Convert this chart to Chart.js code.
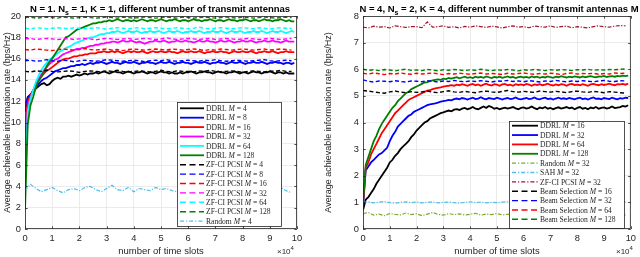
<!DOCTYPE html>
<html><head><meta charset="utf-8">
<script src="https://cdn.jsdelivr.net/npm/chart.js@4/dist/chart.umd.min.js"></script>
<style>
html,body{margin:0;padding:0;background:#fff;overflow:hidden}
#wrap{position:relative;width:640px;height:257px}
canvas{position:absolute;top:0}
</style></head><body>
<div id="wrap">
<canvas id="c1" width="320" height="257" style="left:0;width:320px;height:257px"></canvas>
<canvas id="c2" width="320" height="257" style="left:320px;width:320px;height:257px"></canvas>
</div>
<script>
// ---------- shared x values (time slots) ----------
const timeSlots = [0,1000,2000,3000,4000,5000,6000,7000,8000,9000,10000,11000,12000,13000,14000,15000,16000,17000,18000,19000,
20000,21000,22000,23000,24000,25000,26000,27000,28000,29000,30000,31000,32000,33000,34000,35000,36000,37000,38000,39000,
40000,41000,42000,43000,44000,45000,46000,47000,48000,49000,50000,51000,52000,53000,54000,55000,56000,57000,58000,59000,
60000,61000,62000,63000,64000,65000,66000,67000,68000,69000,70000,71000,72000,73000,74000,75000,76000,77000,78000,79000,
80000,81000,82000,83000,84000,85000,86000,87000,88000,89000,90000,91000,92000,93000,94000,95000,96000,97000,98000,99000];
const timeSlotsCoarse = [0,2000,4000,6000,8000,10000,12000,14000,16000,18000,20000,22000,24000,26000,28000,30000,32000,34000,36000,38000,
40000,42000,44000,46000,48000,50000,52000,54000,56000,58000,60000,62000,64000,66000,68000,70000,72000,74000,76000,78000,
80000,82000,84000,86000,88000,90000,92000,94000,96000,98000];
const xTickLabels = ['0','1','2','3','4','5','6','7','8','9','10'];
const leftYTicks = [0,2,4,6,8,10,12,14,16,18,20];
const rightYTicks = [0,1,2,3,4,5,6,7,8];

// ---------- LEFT: N=1, Ns=1, K=1 ----------
const antennasLeft = ['4','8','16','32','64','128'];
const ddrlL4 = [11.0,12.4,12.6,12.9,13.2,13.4,13.6,13.7,13.5,13.6,13.9,14.1,14.2,14.1,14.3,14.3,14.4,14.3,14.4,14.5,
14.4,14.5,14.6,14.5,14.6,14.6,14.7,14.6,14.7,14.8,14.7,14.6,14.7,14.8,14.7,14.7,14.6,14.7,14.8,14.7,
14.6,14.7,14.7,14.8,14.7,14.6,14.7,14.7,14.6,14.7,14.8,14.7,14.7,14.6,14.7,14.6,14.6,14.7,14.6,14.7,
14.7,14.8,14.7,14.6,14.7,14.7,14.8,14.7,14.7,14.6,14.7,14.8,14.7,14.7,14.6,14.7,14.7,14.8,14.7,14.6,
14.7,14.7,14.6,14.7,14.8,14.7,14.7,14.6,14.7,14.7,14.8,14.7,14.6,14.7,14.7,14.6,14.7,14.6,14.6,14.6];
const ddrlL8 = [11.4,12.3,12.6,13.0,13.3,13.6,13.9,14.1,14.2,14.4,14.6,14.8,14.9,15.0,15.1,15.1,15.2,15.3,15.3,15.4,
15.4,15.5,15.4,15.5,15.6,15.5,15.6,15.6,15.7,15.6,15.5,15.6,15.7,15.6,15.6,15.5,15.6,15.7,15.6,15.6,
15.7,15.6,15.5,15.6,15.6,15.7,15.6,15.6,15.5,15.6,15.7,15.6,15.6,15.7,15.6,15.5,15.6,15.6,15.7,15.6,
15.6,15.5,15.6,15.7,15.6,15.6,15.7,15.6,15.5,15.6,15.6,15.7,15.6,15.6,15.5,15.6,15.7,15.6,15.6,15.7,
15.6,15.5,15.6,15.6,15.7,15.6,15.6,15.7,15.6,15.5,15.6,15.6,15.7,15.6,15.6,15.5,15.6,15.6,15.5,15.6];
const ddrlL16 = [9.0,12.0,12.5,13.0,13.5,14.0,14.3,14.6,14.9,15.0,15.2,15.4,15.6,15.8,15.9,16.0,16.0,16.1,16.2,16.2,
16.3,16.3,16.4,16.4,16.5,16.5,16.5,16.6,16.6,16.7,16.6,16.6,16.7,16.6,16.7,16.6,16.5,16.6,16.7,16.6,
16.7,16.6,16.6,16.7,16.6,16.5,16.6,16.7,16.6,16.6,16.7,16.6,16.6,16.7,16.6,16.6,16.5,16.6,16.7,16.6,
16.6,16.7,16.6,16.6,16.7,16.6,16.5,16.6,16.6,16.7,16.6,16.6,16.7,16.6,16.6,16.5,16.6,16.7,16.6,16.6,
16.7,16.6,16.6,16.7,16.6,16.5,16.6,16.6,16.7,16.6,16.6,16.7,16.6,16.5,16.6,16.6,16.7,16.6,16.6,16.6];
const ddrlL32 = [6.5,11.5,12.3,13.0,13.6,14.1,14.5,14.9,15.2,15.5,15.7,15.9,16.0,16.2,16.4,16.5,16.6,16.7,16.8,16.9,
16.9,17.0,17.0,17.1,17.2,17.2,17.3,17.3,17.4,17.4,17.5,17.5,17.6,17.6,17.5,17.6,17.7,17.6,17.6,17.7,
17.6,17.5,17.6,17.5,17.4,17.5,17.6,17.6,17.7,17.6,17.6,17.7,17.6,17.5,17.6,17.6,17.7,17.6,17.6,17.7,
17.6,17.6,17.5,17.6,17.7,17.6,17.6,17.7,17.6,17.6,17.5,17.6,17.7,17.6,17.6,17.7,17.6,17.5,17.6,17.6,
17.7,17.6,17.6,17.7,17.6,17.5,17.6,17.6,17.7,17.6,17.6,17.7,17.6,17.6,17.5,17.6,17.7,17.6,17.6,17.6];
const ddrlL64 = [3.5,11.0,12.2,13.0,13.8,14.4,14.9,15.3,15.6,15.9,16.1,16.3,16.5,16.7,16.8,17.0,17.1,17.2,17.4,17.5,
17.6,17.7,17.8,17.9,18.0,18.0,18.1,18.2,18.3,18.3,18.4,18.4,18.5,18.5,18.6,18.5,18.4,18.5,18.6,18.5,
18.5,18.6,18.5,18.4,18.5,18.5,18.6,18.5,18.5,18.6,18.5,18.4,18.5,18.6,18.5,18.5,18.6,18.5,18.4,18.5,
18.5,18.6,18.5,18.5,18.6,18.5,18.4,18.5,18.5,18.6,18.5,18.5,18.6,18.5,18.4,18.5,18.6,18.5,18.5,18.6,
18.5,18.4,18.5,18.5,18.6,18.5,18.5,18.6,18.5,18.4,18.5,18.6,18.5,18.5,18.6,18.5,18.4,18.5,18.6,18.5];
const ddrlL128 = [1.8,9.8,11.6,12.4,13.3,13.9,14.3,14.8,15.3,15.7,16.0,16.4,16.8,17.2,17.6,18.0,18.1,18.3,18.5,18.7,
18.8,18.9,19.0,19.1,19.2,19.3,19.3,19.4,19.4,19.5,19.5,19.6,19.5,19.6,19.7,19.6,19.5,19.6,19.6,19.5,
19.6,19.5,19.6,19.7,19.6,19.5,19.6,19.6,19.5,19.6,19.7,19.6,19.5,19.6,19.6,19.7,19.6,19.5,19.6,19.6,
19.5,19.6,19.7,19.6,19.6,19.5,19.6,19.6,19.7,19.6,19.5,19.6,19.6,19.5,19.6,19.7,19.6,19.6,19.5,19.6,
19.6,19.7,19.6,19.5,19.6,19.6,19.5,19.6,19.7,19.6,19.6,19.5,19.6,19.6,19.7,19.6,19.5,19.6,19.5,19.5];
const zfL4 = [14.8,14.75,14.85,14.8,14.9,14.8,14.75,14.8,14.85,14.8,14.7,14.8,14.85,14.8,14.75,14.85,14.8,14.9,14.8,14.75,
14.8,14.85,14.8,14.75,14.8,14.9,14.8,14.75,14.85,14.8,14.8,14.75,14.85,14.8,14.9,14.8,14.75,14.8,14.85,14.8,
14.7,14.8,14.85,14.8,14.75,14.85,14.8,14.9,14.8,14.8];
const zfL8 = [15.8,15.85,15.75,15.8,15.9,15.8,15.75,15.85,15.8,15.7,15.8,15.85,15.8,15.75,15.8,15.9,15.85,15.8,15.75,15.8,
15.85,15.8,15.7,15.8,15.85,15.8,15.9,15.8,15.75,15.8,15.85,15.8,15.75,15.85,15.8,15.9,15.8,15.75,15.8,15.85,
15.8,15.75,15.8,15.85,15.9,15.8,15.75,15.8,15.85,15.8];
const zfL16 = [16.85,16.8,16.9,16.85,16.8,16.75,16.85,16.9,16.85,16.8,16.85,16.95,16.85,16.8,16.85,16.9,16.8,16.85,16.75,16.85,
16.9,16.85,16.8,16.85,16.9,16.85,16.8,16.9,16.85,16.8,16.85,16.9,16.85,16.75,16.85,16.8,16.9,16.85,16.8,16.85,
16.9,16.85,16.8,16.85,16.9,16.8,16.85,16.9,16.85,16.8];
const zfL32 = [17.85,17.9,17.8,17.85,17.9,17.85,17.8,17.85,17.9,17.8,17.85,17.9,17.85,17.75,17.85,17.9,17.85,17.8,17.85,17.9,
17.8,17.85,17.9,17.85,17.8,17.85,17.95,17.85,17.8,17.85,17.9,17.85,17.8,17.85,17.9,17.8,17.85,17.9,17.85,17.8,
17.85,17.9,17.85,17.8,17.85,17.9,17.85,17.8,17.85,17.9];
const zfL64 = [18.85,18.8,18.9,18.85,18.8,18.85,18.9,18.85,18.8,18.9,18.85,18.8,18.85,18.9,18.85,18.75,18.85,18.9,18.85,18.8,
18.85,18.9,18.8,18.85,18.9,18.85,18.8,18.85,18.9,18.85,18.8,18.85,18.95,18.85,18.8,18.85,18.9,18.85,18.8,18.85,
18.9,18.85,18.8,18.9,18.85,18.8,18.85,18.9,18.85,18.85];
const zfL128 = [19.85,19.9,19.8,19.85,19.9,19.85,19.8,19.9,19.85,19.8,19.85,19.9,19.85,19.8,19.85,19.9,19.85,19.8,19.9,19.85,
19.8,19.85,19.9,19.85,19.8,19.85,19.9,19.85,19.8,19.9,19.85,19.8,19.85,19.9,19.85,19.8,19.85,19.9,19.85,19.8,
19.9,19.85,19.8,19.85,19.9,19.85,19.8,19.85,19.9,19.85];
const randomL4 = [3.6,4.2,3.8,3.5,3.7,3.9,3.6,3.4,3.7,3.8,3.6,3.9,4.0,3.7,3.5,3.8,4.1,3.7,3.6,3.9,
3.5,3.8,3.7,3.6,3.9,3.7,3.8,3.6,3.5,3.8,3.9,3.7,3.6,3.8,3.7,3.5,3.8,3.9,3.6,3.7,
3.8,3.6,3.9,3.7,3.5,3.8,3.7,3.9,3.6,3.4];

// ---------- RIGHT: N=4, Ns=2, K=4 ----------
const antennasRight = ['16','32','64','128'];
const ddrlR16 = [0.7,1.1,1.2,1.35,1.5,1.7,1.85,2.0,2.15,2.3,2.5,2.6,2.75,2.85,3.0,3.1,3.2,3.3,3.45,3.55,
3.7,3.8,3.9,4.0,4.05,4.15,4.2,4.25,4.3,4.35,4.38,4.42,4.45,4.42,4.48,4.5,4.47,4.52,4.55,4.5,
4.53,4.58,4.52,4.5,4.55,4.6,4.55,4.62,4.58,4.52,4.55,4.5,4.53,4.56,4.52,4.55,4.58,4.53,4.5,4.55,
4.57,4.52,4.55,4.6,4.54,4.5,4.56,4.53,4.58,4.52,4.55,4.5,4.54,4.57,4.52,4.55,4.58,4.53,4.56,4.5,
4.55,4.58,4.52,4.55,4.5,4.56,4.53,4.58,4.52,4.55,4.57,4.52,4.55,4.6,4.54,4.56,4.58,4.62,4.6,4.65];
const ddrlR32 = [0.8,2.2,2.35,2.5,2.6,2.7,2.8,2.85,2.95,3.05,3.3,3.5,3.65,3.85,3.95,4.05,4.15,4.25,4.3,4.4,
4.45,4.5,4.55,4.6,4.65,4.68,4.7,4.72,4.75,4.78,4.8,4.82,4.85,4.83,4.88,4.9,4.87,4.92,4.9,4.86,
4.9,4.93,4.88,4.9,4.95,4.9,4.87,4.92,4.9,4.88,4.93,4.9,4.86,4.9,4.92,4.88,4.9,4.94,4.89,4.87,
4.9,4.92,4.88,4.9,4.94,4.89,4.87,4.91,4.93,4.88,4.9,4.86,4.9,4.93,4.89,4.91,4.88,4.92,4.9,4.87,
4.91,4.93,4.88,4.9,4.86,4.91,4.94,4.89,4.9,4.87,4.92,4.9,4.88,4.93,4.9,4.87,4.91,4.9,4.93,4.92];
const ddrlR64 = [0.9,2.3,2.5,2.8,3.0,3.2,3.4,3.6,3.75,3.9,4.05,4.2,4.35,4.45,4.55,4.65,4.75,4.85,4.9,4.95,
5.0,5.05,5.1,5.15,5.2,5.22,5.25,5.28,5.3,5.32,5.35,5.37,5.38,5.4,5.38,5.42,5.4,5.44,5.41,5.38,
5.42,5.45,5.4,5.43,5.38,5.42,5.46,5.41,5.39,5.44,5.42,5.38,5.43,5.45,5.4,5.42,5.38,5.44,5.41,5.43,
5.4,5.45,5.42,5.38,5.43,5.41,5.44,5.4,5.42,5.46,5.41,5.39,5.43,5.4,5.44,5.42,5.38,5.43,5.45,5.41,
5.42,5.4,5.44,5.41,5.38,5.43,5.45,5.42,5.4,5.44,5.41,5.43,5.46,5.42,5.4,5.44,5.43,5.45,5.42,5.46];
const ddrlR128 = [1.0,2.4,2.7,3.0,3.3,3.5,3.75,3.95,4.1,4.25,4.4,4.55,4.65,4.8,4.9,5.0,5.1,5.15,5.25,5.3,
5.35,5.4,5.45,5.5,5.52,5.55,5.58,5.6,5.62,5.6,5.65,5.63,5.67,5.65,5.68,5.7,5.66,5.69,5.72,5.68,
5.7,5.67,5.72,5.69,5.71,5.68,5.73,5.7,5.67,5.71,5.69,5.72,5.68,5.7,5.73,5.69,5.71,5.67,5.7,5.72,
5.69,5.71,5.68,5.73,5.7,5.72,5.68,5.71,5.69,5.73,5.7,5.68,5.72,5.7,5.74,5.71,5.69,5.72,5.7,5.73,
5.71,5.69,5.73,5.7,5.72,5.74,5.71,5.7,5.73,5.72,5.75,5.71,5.73,5.74,5.72,5.75,5.73,5.76,5.74,5.76];
const randomR32 = [0.58,0.62,0.52,0.56,0.5,0.58,0.55,0.53,0.6,0.54,0.57,0.5,0.56,0.62,0.55,0.52,0.58,0.54,0.57,0.53,
0.55,0.59,0.52,0.56,0.54,0.58,0.53,0.55,0.57,0.52,0.56,0.54,0.58,0.55,0.52,0.57,0.54,0.56,0.53,0.55,
0.58,0.54,0.56,0.52,0.55,0.57,0.53,0.56,0.6,0.52];
const sahR32 = [1.0,1.02,0.98,1.01,1.03,0.99,0.97,1.0,1.02,0.99,1.01,0.98,1.0,1.02,0.98,1.0,1.01,0.99,0.97,1.0,
1.02,0.99,1.01,0.98,1.0,0.99,1.01,1.02,0.98,1.0,0.99,1.01,1.0,0.98,1.02,0.99,1.0,1.01,0.98,1.0,
1.02,0.99,1.0,0.98,1.01,1.0,0.99,1.02,1.0,1.01];
const zfR32 = [7.58,7.55,7.62,7.58,7.6,7.55,7.63,7.6,7.57,7.6,7.6,7.56,7.78,7.58,7.6,7.63,7.57,7.6,7.55,7.61,
7.58,7.63,7.6,7.57,7.62,7.59,7.55,7.6,7.63,7.58,7.6,7.56,7.62,7.6,7.58,7.63,7.57,7.6,7.62,7.56,
7.6,7.58,7.55,7.6,7.63,7.6,7.58,7.62,7.64,7.63];
const beamR16 = [5.2,5.18,5.15,5.12,5.1,5.15,5.18,5.14,5.12,5.16,5.13,5.15,5.18,5.14,5.12,5.16,5.19,5.15,5.13,5.17,
5.14,5.12,5.16,5.18,5.15,5.13,5.17,5.2,5.16,5.14,5.17,5.15,5.13,5.18,5.16,5.14,5.17,5.15,5.12,5.16,
5.18,5.15,5.13,5.17,5.15,5.12,5.16,5.14,5.12,5.1];
const beamR32 = [5.6,5.55,5.52,5.56,5.55,5.53,5.57,5.54,5.52,5.56,5.55,5.53,5.57,5.55,5.52,5.56,5.54,5.58,5.55,5.53,
5.56,5.54,5.57,5.55,5.52,5.56,5.55,5.58,5.54,5.56,5.53,5.57,5.55,5.52,5.56,5.54,5.58,5.55,5.53,5.56,
5.54,5.57,5.55,5.53,5.56,5.58,5.55,5.54,5.57,5.56];
const beamR64 = [5.85,5.82,5.86,5.83,5.8,5.84,5.82,5.86,5.83,5.81,5.85,5.82,5.84,5.86,5.83,5.8,5.84,5.82,5.85,5.83,
5.81,5.84,5.86,5.82,5.84,5.83,5.8,5.85,5.82,5.84,5.86,5.83,5.81,5.84,5.82,5.85,5.83,5.8,5.84,5.86,
5.82,5.84,5.83,5.85,5.81,5.84,5.82,5.86,5.84,5.85];
const beamR128 = [6.0,5.96,5.98,5.95,5.99,5.97,5.94,5.98,6.0,5.96,5.97,5.95,5.99,5.97,5.94,5.98,5.96,5.99,5.97,5.95,
5.98,5.96,6.0,5.97,5.95,5.98,5.96,5.99,5.97,5.94,5.98,5.96,5.99,5.97,5.95,5.98,5.96,5.99,5.97,5.95,
5.98,5.97,6.0,5.96,5.98,5.97,5.99,5.98,6.0,6.01];

// ---------- styling ----------
const C = {black:'#000000', blue:'#0000ff', red:'#ff0000', mag:'#ff00ff', cyan:'#00ffff', green:'#008000',
  lblue:'#4dbeee', ygreen:'#77ac30', dred:'#a2142f'};
const DASH = [4,2.5], DASHDOT = [4,1.5,1.2,1.5];
const LEG_DASH = [6,3.5], LEG_DASHDOT = [4,2,1.2,2];
const AX = '#262626', GRID = '#e6e6e6';
const SANS = '"Liberation Sans", Arial, Helvetica, sans-serif';
const SERIF = '"Liberation Serif", "Times New Roman", serif';

const leftSeries = [
  {name:'DDRL', m:antennasLeft[0], xs:timeSlots, ys:ddrlL4, color:C.black, w:1.8, dash:[]},
  {name:'DDRL', m:antennasLeft[1], xs:timeSlots, ys:ddrlL8, color:C.blue, w:1.8, dash:[]},
  {name:'DDRL', m:antennasLeft[2], xs:timeSlots, ys:ddrlL16, color:C.red, w:1.8, dash:[]},
  {name:'DDRL', m:antennasLeft[3], xs:timeSlots, ys:ddrlL32, color:C.mag, w:1.8, dash:[]},
  {name:'DDRL', m:antennasLeft[4], xs:timeSlots, ys:ddrlL64, color:C.cyan, w:1.8, dash:[]},
  {name:'DDRL', m:antennasLeft[5], xs:timeSlots, ys:ddrlL128, color:C.green, w:1.8, dash:[]},
  {name:'ZF-CI PCSI', m:antennasLeft[0], xs:timeSlotsCoarse, ys:zfL4, color:C.black, w:1.4, dash:DASH},
  {name:'ZF-CI PCSI', m:antennasLeft[1], xs:timeSlotsCoarse, ys:zfL8, color:C.blue, w:1.4, dash:DASH},
  {name:'ZF-CI PCSI', m:antennasLeft[2], xs:timeSlotsCoarse, ys:zfL16, color:C.red, w:1.4, dash:DASH},
  {name:'ZF-CI PCSI', m:antennasLeft[3], xs:timeSlotsCoarse, ys:zfL32, color:C.mag, w:1.4, dash:DASH},
  {name:'ZF-CI PCSI', m:antennasLeft[4], xs:timeSlotsCoarse, ys:zfL64, color:C.cyan, w:1.4, dash:DASH},
  {name:'ZF-CI PCSI', m:antennasLeft[5], xs:timeSlotsCoarse, ys:zfL128, color:C.green, w:1.4, dash:DASH},
  {name:'Random', m:antennasLeft[0], xs:timeSlotsCoarse, ys:randomL4, color:C.lblue, w:1.2, dash:DASHDOT},
];
const rightSeries = [
  {name:'DDRL', m:antennasRight[0], xs:timeSlots, ys:ddrlR16, color:C.black, w:1.8, dash:[]},
  {name:'DDRL', m:antennasRight[1], xs:timeSlots, ys:ddrlR32, color:C.blue, w:1.8, dash:[]},
  {name:'DDRL', m:antennasRight[2], xs:timeSlots, ys:ddrlR64, color:C.red, w:1.8, dash:[]},
  {name:'DDRL', m:antennasRight[3], xs:timeSlots, ys:ddrlR128, color:C.green, w:1.8, dash:[]},
  {name:'Random', m:antennasRight[1], xs:timeSlotsCoarse, ys:randomR32, color:C.ygreen, w:1.2, dash:DASHDOT},
  {name:'SAH', m:antennasRight[1], xs:timeSlotsCoarse, ys:sahR32, color:C.lblue, w:1.2, dash:DASHDOT},
  {name:'ZF-CI PCSI', m:antennasRight[1], xs:timeSlotsCoarse, ys:zfR32, color:C.dred, w:1.2, dash:DASHDOT},
  {name:'Beam Selection', m:antennasRight[0], xs:timeSlotsCoarse, ys:beamR16, color:C.black, w:1.4, dash:DASH},
  {name:'Beam Selection', m:antennasRight[1], xs:timeSlotsCoarse, ys:beamR32, color:C.blue, w:1.4, dash:DASH},
  {name:'Beam Selection', m:antennasRight[2], xs:timeSlotsCoarse, ys:beamR64, color:C.red, w:1.4, dash:DASH},
  {name:'Beam Selection', m:antennasRight[3], xs:timeSlotsCoarse, ys:beamR128, color:C.green, w:1.4, dash:DASH},
];

function toDatasets(series){
  const n = series.length;
  return series.map((s,i)=>({
    label: s.name + ' M = ' + s.m,
    data: s.ys.map((y,k)=>({x:s.xs[k], y:y})),
    borderColor: s.color, borderWidth: s.w, borderDash: s.dash,
    pointRadius: 0, tension: 0, fill: false, order: n - i,
    _meta: s
  }));
}

function drawRuns(ctx, runs, x, y, align){
  const widths = runs.map(r=>{ctx.font = r.font; return ctx.measureText(r.t).width;});
  const total = widths.reduce((a,b)=>a+b,0);
  let cx = align==='center' ? x - total/2 : x;
  ctx.textBaseline = 'alphabetic'; ctx.textAlign = 'left';
  runs.forEach((r,i)=>{ctx.font = r.font; ctx.fillText(r.t, cx, y + (r.dy||0)); cx += widths[i];});
}

const decor = {
  id:'decor',
  beforeDraw(chart){
    const {ctx} = chart;
    ctx.save(); ctx.fillStyle='#fff'; ctx.fillRect(0,0,chart.width,chart.height); ctx.restore();
  },
  afterDatasetsDraw(chart, args, o){
    const {ctx, chartArea:a} = chart;
    const xs = chart.scales.x, ys = chart.scales.y;
    ctx.save();
    ctx.strokeStyle = AX; ctx.lineWidth = 0.8;
    ctx.strokeRect(a.left+0.5, a.top+0.5, a.right-a.left-1, a.bottom-a.top-1);
    ctx.beginPath();
    xs.ticks.forEach(t=>{const p=Math.round(xs.getPixelForValue(t.value))+0.5;
      ctx.moveTo(p,a.bottom); ctx.lineTo(p,a.bottom-2.7); ctx.moveTo(p,a.top); ctx.lineTo(p,a.top+2.7);});
    ys.ticks.forEach(t=>{const p=Math.round(ys.getPixelForValue(t.value))+0.5;
      ctx.moveTo(a.left,p); ctx.lineTo(a.left+2.7,p); ctx.moveTo(a.right,p); ctx.lineTo(a.right-2.7,p);});
    ctx.stroke();
    // legend
    const L = o.legend;
    ctx.fillStyle='#fff'; ctx.fillRect(L.x, L.y, L.w, L.h);
    ctx.strokeStyle = AX; ctx.lineWidth = 0.8; ctx.strokeRect(L.x+0.5, L.y+0.5, L.w, L.h);
    chart.data.datasets.forEach((ds,i)=>{
      const s = ds._meta; const yy = L.row0 + i*L.rowH;
      const ld = s.dash.length===0 ? [] : (s.dash.length===2 ? LEG_DASH : LEG_DASHDOT);
      ctx.beginPath(); ctx.setLineDash(ld); ctx.strokeStyle = s.color; ctx.lineWidth = Math.max(s.w,1.3);
      ctx.moveTo(L.lx0, yy); ctx.lineTo(L.lx1, yy); ctx.stroke(); ctx.setLineDash([]);
      ctx.fillStyle = AX;
      drawRuns(ctx, [
        {t:s.name+' ', font:`${L.fs}px ${SERIF}`},
        {t:'M', font:`italic ${L.fs}px ${SERIF}`},
        {t:' = '+s.m, font:`${L.fs}px ${SERIF}`}
      ], L.tx, yy + L.fs*0.35, 'left');
    });
    // title
    ctx.fillStyle = '#000';
    drawRuns(ctx, o.title.map(r=>({t:r.t, font: r.sub ? `bold 7px ${SANS}` : `bold 9.5px ${SANS}`, dy: r.sub?2.5:0})),
      o.titleX, o.titleY, 'center');
    ctx.fillStyle = AX;
    drawRuns(ctx, [{t:'\u00d710', font:`8px ${SANS}`},{t:'4', font:`6px ${SANS}`, dy:-4}], o.expX, o.expY, 'left');
    ctx.restore();
  }
};

function makeChart(id, series, cfg){
  return new Chart(document.getElementById(id), {
    type:'line',
    data:{datasets: toDatasets(series)},
    options:{
      responsive:false, animation:false, devicePixelRatio:1,
      layout:{padding:cfg.padding},
      plugins:{legend:{display:false}, tooltip:{enabled:false}, title:{display:false},
        decor:{legend:cfg.legend, title:cfg.title, titleX:cfg.titleX, titleY:12, expX:cfg.expX, expY:254}},
      scales:{
        x:{type:'linear', min:0, max:100000,
           afterBuildTicks:(s)=>{s.ticks = xTickLabels.map((l,i)=>({value:i*10000}));},
           ticks:{callback:(v)=>xTickLabels[Math.round(v/10000)], color:AX, font:{family:SANS,size:9.3}, padding:4, maxRotation:0, autoSkip:false},
           grid:{color:GRID, drawTicks:false, lineWidth:0.8}, border:{display:false},
           title:{display:true, text:'number of time slots', color:AX, font:{family:SANS,size:9.5}, padding:{top:0,bottom:0}},
           afterFit:(s)=>{s.height = 28;}},
        y:{type:'linear', min:cfg.yTicks[0], max:cfg.yTicks[cfg.yTicks.length-1],
           afterBuildTicks:(s)=>{s.ticks = cfg.yTicks.map(v=>({value:v}));},
           ticks:{color:AX, font:{family:SANS,size:9.3}, padding:4, autoSkip:false},
           grid:{color:GRID, drawTicks:false, lineWidth:0.8}, border:{display:false},
           title:{display:true, text:'Average achievable information rate (bps/Hz)', color:AX, font:{family:SANS,size:9}, padding:{top:cfg.yTitlePad,bottom:0}},
           afterFit:(s)=>{s.width = cfg.yWidth;}}
      }
    },
    plugins:[decor]
  });
}

makeChart('c1', leftSeries, {
  padding:{left:0, top:16, right:23, bottom:0}, yWidth:25, yTicks:leftYTicks, yTitlePad:2,
  titleX:160,
  title:[{t:'N = 1. N'},{t:'s',sub:true},{t:' = 1, K = 1, different number of transmit antennas'}],
  expX:277,
  legend:{x:177, y:102, w:104, h:124, row0:108.3, rowH:9.4, lx0:180, lx1:204, tx:206, fs:7.6}
});
makeChart('c2', rightSeries, {
  padding:{left:0, top:16, right:6, bottom:0}, yWidth:43, yTicks:rightYTicks, yTitlePad:3,
  titleX:179,
  title:[{t:'N = 4, N'},{t:'s',sub:true},{t:' = 2, K = 4, different nummber of transmit antennas M'}],
  expX:296,
  legend:{x:189, y:121, w:115, h:107, row0:125.7, rowH:9.36, lx0:192, lx1:218, tx:220, fs:7.6}
});
</script>
</body></html>
